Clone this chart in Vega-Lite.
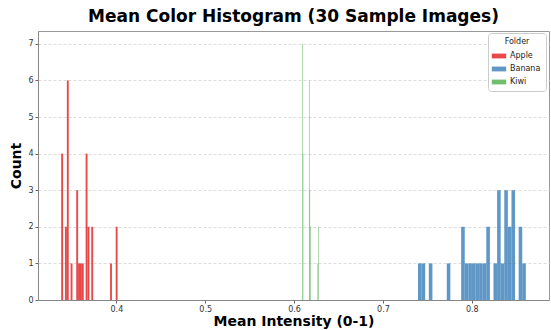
{
  "$schema": "https://vega.github.io/schema/vega-lite/v6.json",
  "width": 511,
  "height": 269,
  "autosize": {"type": "none"},
  "padding": {"left": 38, "top": 31, "right": 2, "bottom": 30},
  "title": {"text": "Mean Color Histogram (30 Sample Images)", "fontSize": 17, "fontWeight": "bold", "font": "DejaVu Sans", "color": "#000", "anchor": "middle", "offset": 5},
  "data": {"values": [
    {"Folder": "Apple", "start": 0.33792, "end": 0.340035, "count": 4},
    {"Folder": "Apple", "start": 0.34215, "end": 0.344265, "count": 2},
    {"Folder": "Apple", "start": 0.344265, "end": 0.34638, "count": 6},
    {"Folder": "Apple", "start": 0.348495, "end": 0.35061, "count": 1},
    {"Folder": "Apple", "start": 0.35484, "end": 0.356955, "count": 3},
    {"Folder": "Apple", "start": 0.356955, "end": 0.35907, "count": 1},
    {"Folder": "Apple", "start": 0.35907, "end": 0.361185, "count": 1},
    {"Folder": "Apple", "start": 0.361185, "end": 0.3633, "count": 1},
    {"Folder": "Apple", "start": 0.365415, "end": 0.36753, "count": 4},
    {"Folder": "Apple", "start": 0.36753, "end": 0.369645, "count": 2},
    {"Folder": "Apple", "start": 0.37176, "end": 0.373875, "count": 2},
    {"Folder": "Apple", "start": 0.39291, "end": 0.395025, "count": 1},
    {"Folder": "Apple", "start": 0.399255, "end": 0.40137, "count": 2},
    {"Folder": "Banana", "start": 0.73949, "end": 0.743535, "count": 1},
    {"Folder": "Banana", "start": 0.743535, "end": 0.74758, "count": 1},
    {"Folder": "Banana", "start": 0.751625, "end": 0.75567, "count": 1},
    {"Folder": "Banana", "start": 0.77185, "end": 0.775895, "count": 1},
    {"Folder": "Banana", "start": 0.78803, "end": 0.792075, "count": 2},
    {"Folder": "Banana", "start": 0.792075, "end": 0.79612, "count": 1},
    {"Folder": "Banana", "start": 0.79612, "end": 0.800165, "count": 1},
    {"Folder": "Banana", "start": 0.800165, "end": 0.80421, "count": 1},
    {"Folder": "Banana", "start": 0.80421, "end": 0.808255, "count": 1},
    {"Folder": "Banana", "start": 0.808255, "end": 0.8123, "count": 1},
    {"Folder": "Banana", "start": 0.8123, "end": 0.816345, "count": 1},
    {"Folder": "Banana", "start": 0.816345, "end": 0.82039, "count": 2},
    {"Folder": "Banana", "start": 0.824435, "end": 0.82848, "count": 1},
    {"Folder": "Banana", "start": 0.82848, "end": 0.832525, "count": 3},
    {"Folder": "Banana", "start": 0.832525, "end": 0.83657, "count": 1},
    {"Folder": "Banana", "start": 0.83657, "end": 0.840615, "count": 3},
    {"Folder": "Banana", "start": 0.840615, "end": 0.84466, "count": 2},
    {"Folder": "Banana", "start": 0.84466, "end": 0.848705, "count": 3},
    {"Folder": "Banana", "start": 0.85275, "end": 0.856795, "count": 2},
    {"Folder": "Banana", "start": 0.856795, "end": 0.86084, "count": 1},
    {"Folder": "Kiwi", "start": 0.60909, "end": 0.60973, "count": 7},
    {"Folder": "Kiwi", "start": 0.60973, "end": 0.61037, "count": 4},
    {"Folder": "Kiwi", "start": 0.61677, "end": 0.61741, "count": 6},
    {"Folder": "Kiwi", "start": 0.61741, "end": 0.61805, "count": 3},
    {"Folder": "Kiwi", "start": 0.61805, "end": 0.61869, "count": 2},
    {"Folder": "Kiwi", "start": 0.62637, "end": 0.62701, "count": 1},
    {"Folder": "Kiwi", "start": 0.62701, "end": 0.62765, "count": 2}
  ]},
  "mark": {"type": "bar", "opacity": 0.8},
  "encoding": {
    "x": {
      "field": "start", "type": "quantitative",
      "scale": {"domain": [0.3118, 0.8869], "nice": false, "zero": false},
      "axis": {"values": [0.4, 0.5, 0.6, 0.7, 0.8], "format": ".1f", "title": "Mean Intensity (0-1)", "titleFontSize": 14, "titleFontWeight": "bold", "titleColor": "#000", "titlePadding": 1, "labelFontSize": 8, "labelColor": "#333", "labelPadding": 2, "tickSize": 3, "tickColor": "#666", "domainColor": "#888", "grid": false, "labelFlush": false}
    },
    "x2": {"field": "end"},
    "y": {
      "field": "count", "type": "quantitative",
      "scale": {"domain": [0, 7.35], "nice": false},
      "axis": {"values": [0, 1, 2, 3, 4, 5, 6, 7], "title": "Count", "titleFontSize": 14, "titleFontWeight": "bold", "titleColor": "#000", "titlePadding": 4, "labelFontSize": 8, "labelColor": "#333", "labelPadding": 2, "tickSize": 3, "tickColor": "#666", "domainColor": "#888", "grid": true, "gridDash": [3, 2], "gridColor": "#ddd", "labelFlush": false}
    },
    "y2": {"datum": 0},
    "color": {
      "field": "Folder", "type": "nominal",
      "scale": {"domain": ["Apple", "Banana", "Kiwi"], "range": ["#e41a1c", "#377eb8", "#4daf4a"]},
      "legend": {"orient": "none", "legendX": 450, "legendY": 2, "title": "Folder", "titleFontSize": 8, "titleFontWeight": "normal", "titleColor": "#222", "titleAnchor": "middle", "titlePadding": 4, "labelFontSize": 8, "labelColor": "#222", "labelOffset": 5, "symbolType": "M-1.2,-0.4H1.2V0.4H-1.2Z", "symbolSize": 144, "symbolOpacity": 0.8, "symbolStrokeWidth": 0, "strokeColor": "#ccc", "fillColor": "white", "padding": 5, "cornerRadius": 3, "rowPadding": 3}
    }
  },
  "config": {
    "font": "DejaVu Sans",
    "view": {"stroke": "#999", "strokeWidth": 1}
  }
}
